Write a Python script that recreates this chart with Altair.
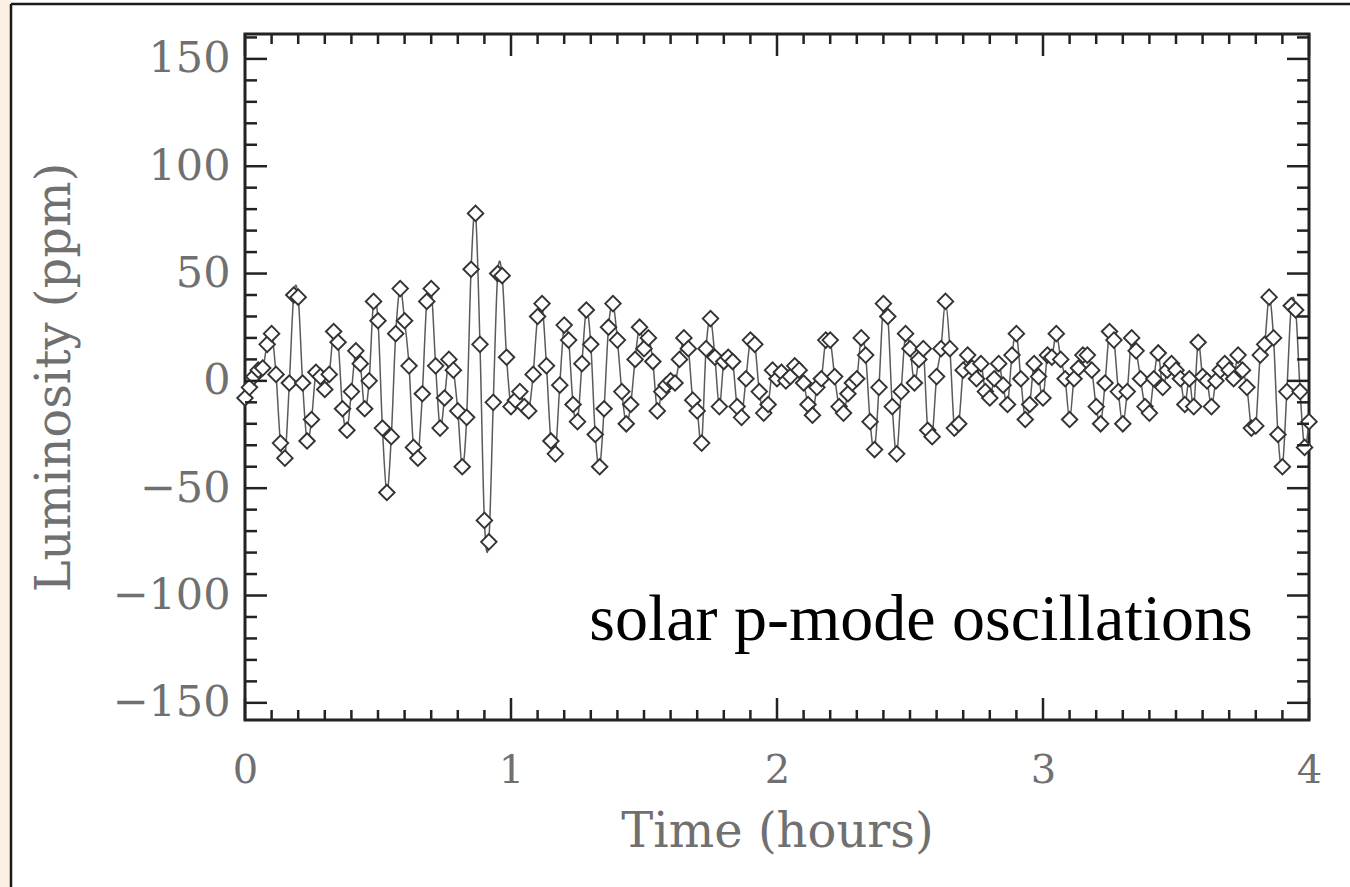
import altair as alt
import pandas as pd

# Luminosity (ppm), one sample per minute from 0 to 4 hours
lum = [
    -8, -3, 2, 5, 6, 17, 22, 3, -29, -36, -1, 40, 39, -1, -28, -18, 4, 2, -4, 3,
    23, 18, -13, -23, -5, 14, 8, -13, 0, 37, 28,
    -22, -52, -26, 22, 43, 28, 7, -31, -36, -6, 37, 43, 7, -22, -8, 10, 5, -14, -40,
    -17, 52, 78, 17, -65, -75, -10, 50, 49, 11, -12,
    -9, -5, -12, -14, 3, 30, 36, 7, -28, -34, -2, 26, 19, -11, -19, 8, 33, 17, -25,
    -40, -13, 25, 36, 19, -5, -20, -11, 10, 25, 15,
    20, 9, -14, -5, -2, 0, -1, 10, 20, 15, -9, -14, -29, 15, 29, 11, -12, 9, 11,
    9, -12, -17, 1, 19, 17, -5, -15, -11, 5, 1,
    4, 0, 2, 7, 5, -1, -11, -16, -3, 1, 19, 19, 2, -12, -15, -6, -1, 1, 20,
    12, -19, -32, -3, 36, 30, -12, -34, -5, 22, 15,
    -1, 10, 15, -23, -26, 2, 15, 37, 15, -22, -20, 5, 12, 6, 1, 8, -5, -8, 1,
    8, -2, -11, 12, 22, 1, -18, -11, 8, 2, -8,
    12, 11, 22, 10, 1, -18, 1, 6, 12, 12, 5, -12, -20, -1, 23, 19, -5, -20, -5,
    20, 14, 1, -12, -15, 1, 13, -3, 5, 8, 5, 1, -11,
    1, -12, 18, 2, 0, -12, 0, 5, 8, 5, 1, 12, 5, -3, -22, -21, 12, 17, 39,
    20, -25, -40, -5, 35, 33, -5, -31, -19,
]
minutes = list(range(len(lum)))

x_labels = [0, 1, 2, 3, 4]
y_labels = [-150, -100, -50, 0, 50, 100, 150]
x_minor = [i / 10 for i in range(0, 41) if i % 10 != 0]
y_minor = [v for v in range(-150, 161, 10) if v % 50 != 0]

annotation = "solar p-mode oscillations"

W, H = 1064, 686
PAD_L, PAD_T = 245, 34
FRAME = "#222222"
LABEL = "#707070"
FONT = "DejaVu Serif"

df = pd.DataFrame({"t": [m / 60 for m in minutes], "v": lum})

xscale = alt.Scale(domain=[0, 4], nice=False, zero=False)
yscale = alt.Scale(domain=[-158, 161.6], nice=False, zero=False)

xaxis = alt.Axis(values=x_labels, format="d", grid=False, domain=False, ticks=False, tickSize=0,
                 labelFont=FONT, labelFontSize=40, labelColor=LABEL, labelPadding=30,
                 labelBaseline="top", labelFlush=False, labelAlign="center",
                 title="Time (hours)", titleFont=FONT, titleFontSize=48, titleFontWeight="normal",
                 titleColor=LABEL, titleY=112, titleBaseline="middle")
yaxis = alt.Axis(values=y_labels, format="d", grid=False, domain=False, ticks=False, tickSize=0,
                 labelFont=FONT, labelFontSize=43, labelColor=LABEL, labelPadding=15,
                 labelFlush=False, labelBaseline="middle",
                 title="Luminosity (ppm)", titleFont=FONT, titleFontSize=48, titleFontWeight="normal",
                 titleColor=LABEL, titleX=-190, titleY=H / 2, titleAngle=-90,
                 titleBaseline="middle", titleAlign="center")


def X(field="t"):
    return alt.X(f"{field}:Q", scale=xscale, axis=xaxis)


def Y(field="v"):
    return alt.Y(f"{field}:Q", scale=yscale, axis=yaxis)


line = alt.Chart(df).mark_line(interpolate="cardinal", color="#5a5a5a", strokeWidth=1.5).encode(
    x=X(), y=Y())
points = alt.Chart(df).mark_point(shape="diamond", filled=True, fill="white", stroke="#333333",
                                  strokeWidth=1.9, size=240, opacity=1).encode(x=X(), y=Y())


def yticks(vals, length, side):
    d = pd.DataFrame({"v": vals})
    x0, x1 = (0, length) if side == "left" else (W, W - length)
    return alt.Chart(d).mark_rule(color=FRAME, strokeWidth=2.5).encode(
        y=Y(), x=alt.value(x0), x2=alt.value(x1))


def xticks(vals, length, side):
    d = pd.DataFrame({"t": vals})
    y0, y1 = (H, H - length) if side == "bottom" else (0, length)
    return alt.Chart(d).mark_rule(color=FRAME, strokeWidth=2.5).encode(
        x=X(), y=alt.value(y0), y2=alt.value(y1))


ticks = [
    yticks(y_labels, 22, "left"), yticks(y_minor, 12, "left"),
    yticks(y_labels, 22, "right"), yticks(y_minor, 12, "right"),
    xticks(x_labels, 22, "bottom"), xticks(x_minor, 10, "bottom"),
    xticks(x_labels, 22, "top"), xticks(x_minor, 10, "top"),
]

text = alt.Chart(pd.DataFrame({"t": [1.294], "v": [-120.6], "s": [annotation]})).mark_text(
    align="left", baseline="alphabetic", font="Liberation Serif", fontSize=66, color="black").encode(
    x=X(), y=Y(), text="s:N")

# page decoration: tinted strip and outer frame of the slide around the figure
strip = alt.Chart(pd.DataFrame({"k": [0]})).mark_rect(color="#fcefe4").encode(
    x=alt.value(-PAD_L), x2=alt.value(11 - PAD_L), y=alt.value(-PAD_T), y2=alt.value(887 - PAD_T))
outer_left = alt.Chart(pd.DataFrame({"k": [0]})).mark_rule(color="#1a1a1a", strokeWidth=2.5).encode(
    x=alt.value(11 - PAD_L), y=alt.value(4 - PAD_T), y2=alt.value(887 - PAD_T))
outer_top = alt.Chart(pd.DataFrame({"k": [0]})).mark_rule(color="#1a1a1a", strokeWidth=2.5).encode(
    y=alt.value(4 - PAD_T), x=alt.value(11 - PAD_L), x2=alt.value(1350 - PAD_L))

chart = alt.layer(strip, outer_left, outer_top, line, points, *ticks, text).properties(
    width=W, height=H,
    autosize=alt.AutoSizeParams(type="none"),
    padding={"left": PAD_L, "top": PAD_T, "right": 1350 - PAD_L - W, "bottom": 887 - PAD_T - H},
    background="white",
).configure_view(stroke=FRAME, strokeWidth=3)

chart.save("out.html", embed_options={"renderer": "svg", "actions": False})
